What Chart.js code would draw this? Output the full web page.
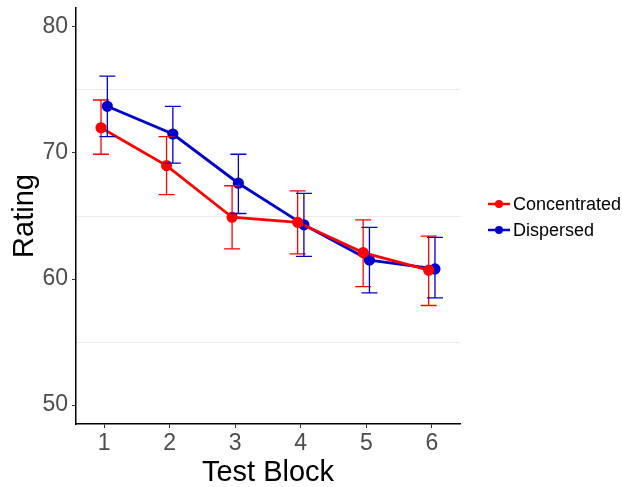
<!DOCTYPE html>
<html>
<head>
<meta charset="utf-8">
<script src="https://cdn.jsdelivr.net/npm/chart.js@4.4.1/dist/chart.umd.min.js"></script>
<style>
html, body { margin: 0; padding: 0; background: #fff; }
#wrap { width: 622px; height: 487px; }
</style>
</head>
<body>
<div id="wrap"><canvas id="ratingChart"></canvas></div>
<script>
// values (mean and error bar ends per test block)
const blocks = [1, 2, 3, 4, 5, 6];
const concentratedMean = [72.0, 69.0, 64.9, 64.5, 62.1, 60.7];
const concentratedLow = [69.9, 66.7, 62.4, 62.0, 59.4, 57.9];
const concentratedHigh = [74.2, 71.3, 67.4, 67.0, 64.7, 63.4];
const dispersedMean = [73.7, 71.5, 67.6, 64.3, 61.5, 60.8];
const dispersedLow = [71.3, 69.2, 65.2, 61.8, 58.9, 58.5];
const dispersedHigh = [76.1, 73.7, 69.9, 66.8, 64.1, 63.3];
const yTicks = [50, 60, 70, 80];
const yMinor = [55, 65, 75];

const dodge = 0.048;
const FONT = "'Liberation Sans', Arial, sans-serif";

function series(means, shift) {
    return blocks.map((b, i) => ({ x: b + shift, y: means[i] }));
}

// error bars drawn with the chart's own scales
const errorBars = {
    id: 'errorBars',
    afterDatasetsDraw(chart) {
        const ctx = chart.ctx;
        const xs = chart.scales.x, ys = chart.scales.y;
        chart.data.datasets.forEach(ds => {
            ctx.save();
            ctx.strokeStyle = ds.borderColor;
            ctx.lineWidth = 1.3;
            ds.data.forEach((p, i) => {
                const x = xs.getPixelForValue(p.x);
                const yTop = ys.getPixelForValue(ds.high[i]);
                const yBot = ys.getPixelForValue(ds.low[i]);
                ctx.beginPath();
                ctx.moveTo(x, yTop); ctx.lineTo(x, yBot);
                ctx.moveTo(x - 8, yTop); ctx.lineTo(x + 8, yTop);
                ctx.moveTo(x - 8, yBot); ctx.lineTo(x + 8, yBot);
                ctx.stroke();
            });
            ctx.restore();
        });
    }
};

// legend to the right, like the ggplot one (line + dot key)
const sideLegend = {
    id: 'sideLegend',
    afterDraw(chart) {
        const ctx = chart.ctx;
        ctx.save();
        chart.data.datasets.forEach((ds, i) => {
            const y = 204 + i * 26;
            ctx.strokeStyle = ds.borderColor;
            ctx.lineWidth = 2.5;
            ctx.beginPath();
            ctx.moveTo(488, y); ctx.lineTo(510, y);
            ctx.stroke();
            ctx.fillStyle = ds.borderColor;
            ctx.beginPath();
            ctx.arc(499, y, 4, 0, Math.PI * 2);
            ctx.fill();
            ctx.fillStyle = '#000';
            ctx.font = '18px ' + FONT;
            ctx.textBaseline = 'middle';
            ctx.fillText(ds.label, 513, y + 1);
        });
        ctx.restore();
    }
};

const ratingCtx = document.getElementById('ratingChart').getContext('2d');
const ratingChart = new Chart(ratingCtx, {
    type: 'line',
    data: {
        datasets: [
            {
                label: 'Concentrated',
                data: series(concentratedMean, -dodge),
                low: concentratedLow,
                high: concentratedHigh,
                borderColor: '#FF0000',
                backgroundColor: '#FF0000',
                borderWidth: 2.8,
                pointRadius: 4.2,
                tension: 0,
            },
            {
                label: 'Dispersed',
                data: series(dispersedMean, dodge),
                low: dispersedLow,
                high: dispersedHigh,
                borderColor: '#0000CC',
                backgroundColor: '#0000CC',
                borderWidth: 2.8,
                pointRadius: 4.2,
                tension: 0,
            }
        ]
    },
    options: {
        responsive: true,
        maintainAspectRatio: false,
        animation: false,
        layout: { padding: { top: 8, right: 162, left: 0, bottom: 0 } },
        scales: {
            x: {
                type: 'linear',
                min: 0.57,
                max: 6.43,
                afterBuildTicks: axis => { axis.ticks = blocks.map(v => ({ value: v })); },
                afterFit: axis => { axis.height = 63; axis.paddingLeft = 0; axis.paddingRight = 0; },
                grid: { color: 'rgba(0,0,0,0)', tickColor: '#333', tickLength: 4, drawOnChartArea: false },
                border: { color: '#000', width: 1.5 },
                ticks: { color: '#4D4D4D', font: { family: FONT, size: 23 }, padding: 2, maxRotation: 0 },
                title: { display: true, text: 'Test Block', color: '#000', font: { family: FONT, size: 29 }, padding: { top: 0, bottom: -3 } }
            },
            y: {
                min: 48.5,
                max: 81.5,
                afterBuildTicks: axis => {
                    axis.ticks = yTicks.concat(yMinor).sort((a, b) => a - b).map(v => ({ value: v }));
                },
                afterFit: axis => { axis.width = 76; axis.paddingTop = 0; axis.paddingBottom = 0; },
                grid: {
                    color: c => yMinor.includes(c.tick.value) ? '#EBEBEB' : 'rgba(0,0,0,0)',
                    tickColor: c => yTicks.includes(c.tick.value) ? '#333' : 'rgba(0,0,0,0)',
                    tickLength: 4
                },
                border: { color: '#000', width: 1.5 },
                ticks: {
                    color: '#4D4D4D',
                    font: { family: FONT, size: 23 },
                    padding: 4,
                    callback: v => yTicks.includes(v) ? v : ''
                },
                title: { display: true, text: 'Rating', color: '#000', font: { family: FONT, size: 29 }, padding: { top: 8, bottom: 0 } }
            }
        },
        plugins: {
            legend: { display: false },
            tooltip: { enabled: false }
        }
    },
    plugins: [errorBars, sideLegend]
});
</script>
</body>
</html>
